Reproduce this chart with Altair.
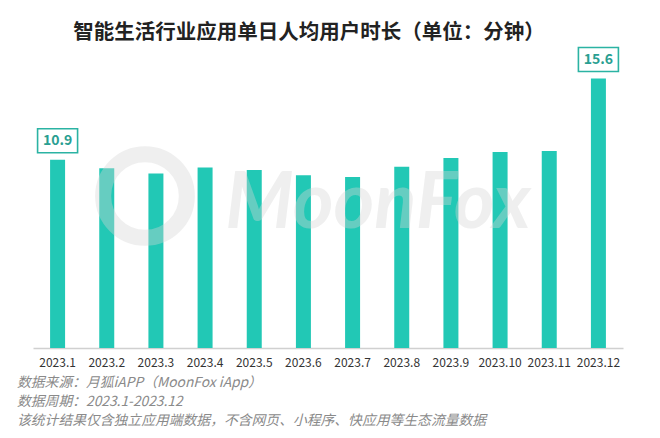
import altair as alt
import pandas as pd

months = ["2023.1", "2023.2", "2023.3", "2023.4", "2023.5", "2023.6",
          "2023.7", "2023.8", "2023.9", "2023.10", "2023.11", "2023.12"]
values = [10.9, 10.4, 10.1, 10.45, 10.3, 10.0, 9.9, 10.5, 11.0, 11.35, 11.4, 15.6]
labeled = ["2023.1", "2023.12"]

title_text = "智能生活行业应用单日人均用户时长（单位：分钟）"
notes = ["数据来源：月狐iAPP（MoonFox iApp）",
         "数据周期：2023.1-2023.12",
         "该统计结果仅含独立应用端数据，不含网页、小程序、快应用等生态流量数据"]

df = pd.DataFrame({"month": months, "value": values})
df["label"] = [f"{v:.1f}" if m in labeled else "" for m, v in zip(months, values)]
lab_df = df[df["label"] != ""]

FONT = "Noto Sans CJK SC"
BAR = "#22C8B5"
W, H = 590, 285

xscale = alt.Scale(paddingInner=0.695, paddingOuter=0.3475)
xaxis = alt.Axis(title=None, ticks=False, labelAngle=0, labelFont=FONT,
                 labelFontSize=12, labelColor="#333333", labelPadding=9,
                 domainColor="#d0d0d0", domainWidth=1.5)
xenc = alt.X("month:N", sort=months, scale=xscale, axis=xaxis)
yscale = alt.Scale(domain=[0, 16.5], nice=False, zero=True)
yenc = alt.Y("value:Q", scale=yscale, axis=None)

base = alt.Chart(df)

wm_text = alt.Chart(pd.DataFrame({"t": ["MoonFox"]})).mark_text(
    font="Lato", fontSize=78, fontWeight="bold", fontStyle="italic",
    color="#d6d6d6", opacity=0.38, align="center", baseline="middle"
).encode(text="t:N", x=alt.value(345), y=alt.value(142))

wm_ring = alt.Chart(pd.DataFrame({"t": ["o"]})).mark_point(
    shape="circle", size=7000, filled=False, stroke="#d6d6d6",
    strokeWidth=16, opacity=0.38
).encode(x=alt.value(112), y=alt.value(133))

bars = base.mark_bar(color=BAR).encode(x=xenc, y=yenc)

box_shape = "M-1,-0.6 L1,-0.6 L1,0.6 L-1,0.6 Z"
boxes = alt.Chart(lab_df).mark_point(
    shape=box_shape, size=1600, filled=False, fill="white", stroke="#2BB3A3",
    strokeWidth=1.6, yOffset=-19, opacity=1
).encode(x=xenc, y=yenc)

labels = alt.Chart(lab_df).mark_text(
    font=FONT, fontSize=14, fontWeight="bold", color="#2A9F92",
    baseline="middle", align="center", yOffset=-19
).encode(x=xenc, y=yenc, text="label:N")

title = alt.Chart(pd.DataFrame({"t": [title_text]})).mark_text(
    font=FONT, fontSize=20.5, fontWeight="bold", color="#222222",
    align="center", baseline="middle"
).encode(text="t:N", x=alt.value(276), y=alt.value(-30))

note_y = [320, 339, 358]
footers = [
    alt.Chart(pd.DataFrame({"note": [n]})).mark_text(
        font=FONT, fontSize=13.8, fontStyle="italic", color="#8a8a8a",
        align="left", baseline="middle"
    ).encode(text="note:N", x=alt.value(-16), y=alt.value(yy))
    for n, yy in zip(notes, note_y)
]

chart = alt.layer(bars, wm_ring, wm_text, boxes, labels, title, *footers).properties(
    width=W, height=H,
    autosize=alt.AutoSizeParams(type="none"),
    padding={"left": 25, "top": 55, "right": 29, "bottom": 82},
    background="white"
).configure_view(stroke=None)

chart.save("out.html", embed_options={"renderer": "svg", "actions": False})
